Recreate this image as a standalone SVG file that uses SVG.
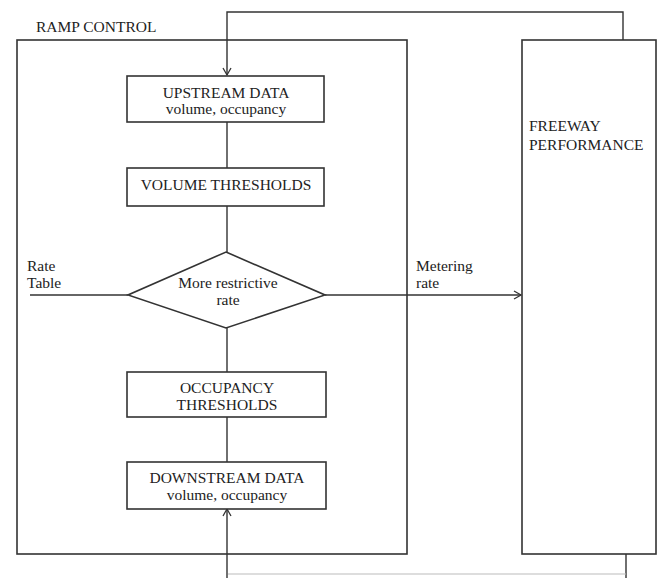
<svg xmlns="http://www.w3.org/2000/svg" width="660" height="578" viewBox="0 0 660 578">
<defs>
<marker id="arr" markerWidth="10" markerHeight="10" refX="8" refY="5" orient="auto" markerUnits="userSpaceOnUse">
<path d="M1,1 L8,5 L1,9" fill="none" stroke="#333" stroke-width="1.3"/>
</marker>
<style>
.box{fill:#fff;stroke:#333;stroke-width:1.6}
.frame{fill:none;stroke:#333;stroke-width:1.6}
.ln{fill:none;stroke:#333;stroke-width:1.4}
.faint{fill:none;stroke:#bbb;stroke-width:1.2}
text{font-family:"Liberation Serif","Times New Roman",serif;font-size:15.5px;fill:#222}
.c{text-anchor:middle}
</style>
</defs>
<rect width="660" height="578" fill="#fff"/>
<g id="ramp-control">
<rect class="frame" x="17" y="40" width="390" height="514"/>
<text x="36" y="32">RAMP CONTROL</text>
</g>
<g id="freeway-performance">
<rect class="frame" x="522" y="40" width="134" height="514"/>
<text x="529" y="131">FREEWAY</text>
<text x="529" y="150">PERFORMANCE</text>
</g>
<g id="connectors">
<polyline class="ln" points="623,40 623,12 227,12 227,75" marker-end="url(#arr)"/>
<line class="ln" x1="227" y1="122" x2="227" y2="168"/>
<line class="ln" x1="227" y1="206" x2="227" y2="252"/>
<line class="ln" x1="30" y1="295" x2="128" y2="295"/>
<line class="ln" x1="325" y1="295" x2="521" y2="295" marker-end="url(#arr)"/>
<line class="ln" x1="227" y1="328" x2="227" y2="372"/>
<line class="ln" x1="227" y1="417" x2="227" y2="462"/>
<line class="ln" x1="626" y1="554" x2="626" y2="578"/>
<line class="faint" x1="228" y1="574" x2="626" y2="574"/>
<line class="ln" x1="227" y1="578" x2="227" y2="509" marker-end="url(#arr)"/>
<text x="27" y="271">Rate</text>
<text x="27" y="288">Table</text>
<text x="416" y="271">Metering</text>
<text x="416" y="288">rate</text>
</g>
<g id="upstream-data">
<rect class="box" x="127" y="76" width="197" height="46"/>
<text class="c" x="226" y="98">UPSTREAM DATA</text>
<text class="c" x="226" y="114">volume, occupancy</text>
</g>
<g id="volume-thresholds">
<rect class="box" x="127" y="168" width="197" height="38"/>
<text class="c" x="226" y="190">VOLUME THRESHOLDS</text>
</g>
<g id="more-restrictive-rate">
<polygon class="box" points="226,252 325,295 226,328 128,295"/>
<text class="c" x="228" y="288">More restrictive</text>
<text class="c" x="228" y="305">rate</text>
</g>
<g id="occupancy-thresholds">
<rect class="box" x="127" y="372" width="199" height="45"/>
<text class="c" x="227" y="393">OCCUPANCY</text>
<text class="c" x="227" y="410">THRESHOLDS</text>
</g>
<g id="downstream-data">
<rect class="box" x="127" y="462" width="199" height="47"/>
<text class="c" x="227" y="483">DOWNSTREAM DATA</text>
<text class="c" x="227" y="500">volume, occupancy</text>
</g>
</svg>
